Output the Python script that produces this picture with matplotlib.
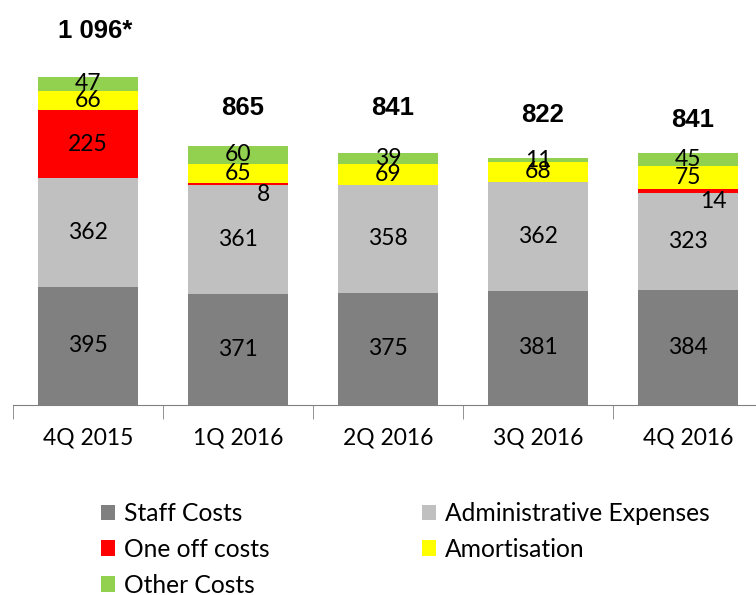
import numpy as np
import matplotlib
matplotlib.use('Agg')
import matplotlib.pyplot as plt
from matplotlib.patches import Patch

quarters = ['4Q 2015', '1Q 2016', '2Q 2016', '3Q 2016', '4Q 2016']
staff = [395, 371, 375, 381, 384]
admin = [362, 361, 358, 362, 323]
one_off = [225, 8, 0, 0, 14]
amort = [66, 65, 69, 68, 75]
other = [47, 60, 39, 11, 45]
totals = ['1 096*', '865', '841', '822', '841']
total_y = [1245, 990, 990, 967, 950]

series = [
    ('Staff Costs', staff, '#808080'),
    ('Administrative Expenses', admin, '#C0C0C0'),
    ('One off costs', one_off, '#FF0000'),
    ('Amortisation', amort, '#FFFF00'),
    ('Other Costs', other, '#92D050'),
]

plt.rcParams['font.family'] = ['Lato', 'DejaVu Sans']

fig = plt.figure(figsize=(7.56, 5.95), dpi=100)
ax = fig.add_axes([13 / 756, 190 / 595, 750 / 756, 405 / 595])

x = np.arange(len(quarters))
bottom = np.zeros(len(quarters))
handles = {}
for name, vals, col in series:
    vals = np.array(vals, dtype=float)
    ax.bar(x, vals, width=0.667, bottom=bottom, color=col, edgecolor='none')
    handles[name] = Patch(facecolor=col)
    for i, v in enumerate(vals):
        if v == 0:
            continue
        if name == 'One off costs' and v < 20:
            # thin slices: label sits just under the red strip, to the right
            ax.text(x[i] + 0.17, bottom[i] - 30, f'{int(v)}', ha='center', va='center',
                    fontsize=16.5)
        else:
            ax.text(x[i], bottom[i] + v / 2, f'{int(v)}', ha='center', va='center',
                    fontsize=16.5)
    bottom += vals

for i, t in enumerate(totals):
    dx = 0.05 if '*' in t else 0.03
    ax.text(x[i] + dx, total_y[i], t, ha='center', va='center', fontsize=18.5,
            fontweight='bold', family='Liberation Sans')

ax.set_xlim(-0.5, 4.5)
ax.set_ylim(0, 1350)
for s in ['top', 'right', 'left']:
    ax.spines[s].set_visible(False)
ax.spines['bottom'].set_color('#808080')
ax.set_yticks([])
ax.set_xticks(x)
ax.set_xticklabels(quarters, fontsize=16.5)
ax.tick_params(axis='x', which='major', length=0, pad=16)
ax.set_xticks(np.arange(-0.5, 5, 1), minor=True)
ax.tick_params(axis='x', which='minor', length=10, direction='out', color='#808080')

kw = dict(loc='upper left', frameon=False, fontsize=17.7, handlelength=0.58,
          handleheight=0.58, handletextpad=0.35, labelspacing=0.52,
          borderpad=0, borderaxespad=0)
names1 = ['Staff Costs', 'One off costs', 'Other Costs']
names2 = ['Administrative Expenses', 'Amortisation']
fig.legend([handles[n] for n in names1], names1, bbox_to_anchor=(101 / 756, 1 - 502 / 595), **kw)
fig.legend([handles[n] for n in names2], names2, bbox_to_anchor=(422 / 756, 1 - 502 / 595), **kw)

fig.savefig('out.png', dpi=100)
